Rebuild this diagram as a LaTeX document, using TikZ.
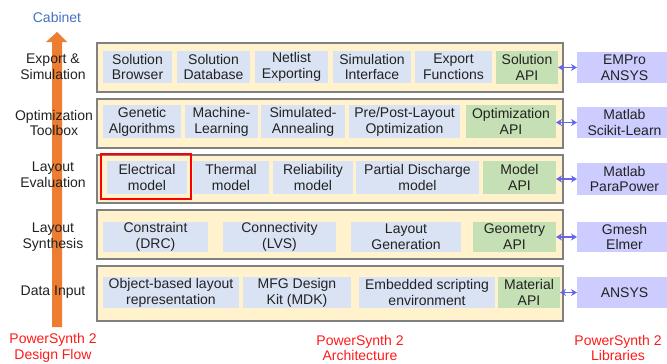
\documentclass[tikz,border=0pt]{standalone}
\usepackage{fontspec}
\setmainfont{Liberation Sans}
\usetikzlibrary{arrows.meta}
\definecolor{txt}{HTML}{222222}
\definecolor{outerfill}{HTML}{FFF2CC}
\definecolor{outerline}{HTML}{808080}
\definecolor{innerblue}{HTML}{DAE3F3}
\definecolor{innergreen}{HTML}{C5E0B4}
\definecolor{libfill}{HTML}{CCCCFF}
\definecolor{linkblue}{RGB}{100,100,240}
\definecolor{flow}{HTML}{ED7D31}
\definecolor{cab}{HTML}{4472C4}
\definecolor{redlab}{HTML}{FF1A1A}
\newcommand\myfs{\fontsize{14}{15.8}\selectfont}
\newcommand\ibox[7]{%
  \pgfmathsetmacro\bxcx{(#3+#4)/2}\pgfmathsetmacro\bxcy{(#5+#6)/2}%
  \pgfmathsetmacro\bxw{#4-#3}\pgfmathsetmacro\bxh{#6-#5}%
  \node[#2, minimum width=\bxw pt, minimum height=\bxh pt] (#1) at (\bxcx,\bxcy) {#7};}
\tikzset{
  base/.style={inner sep=0pt, outer sep=0pt, align=center, font=\myfs, text=txt},
  outerbox/.style={base, fill=outerfill, draw=outerline, line width=1.6pt},
  bluebox/.style={base, fill=innerblue},
  greenbox/.style={base, fill=innergreen},
  libbox/.style={base, fill=libfill},
  sidelab/.style={base},
  redtext/.style={base, text=redlab},
  link/.style={linkblue, line width=1.5pt, {Stealth[length=6pt,width=7pt]}-{Stealth[length=6pt,width=7pt]}},
  hilite/.style={draw=red, line width=2.6pt, inner sep=0pt, outer sep=0pt}
}
\begin{document}
\begin{tikzpicture}[x=1pt,y=-1pt]
\clip (0,0) rectangle (667,364);
% design flow arrow
\fill[flow] (52,327) -- (52,42) -- (46,42) -- (57,32) -- (67,42) -- (62,42) -- (62,327) -- cycle;
\node[base, text=cab] (cabinet) at (57,17) {Cabinet};
% left labels
\node[sidelab] (l1) at (53,67) {Export \&\\Simulation};
\node[sidelab] (l2) at (54,123) {Optimization\\Toolbox};
\node[sidelab] (l3) at (53,175) {Layout\\Evaluation};
\node[sidelab] (l4) at (53,237) {Layout\\Synthesis};
\node[sidelab] (l5) at (53,292) {Data Input};
% outer rows
\ibox{r1}{outerbox}{97}{563}{43}{92}{}
\ibox{r2}{outerbox}{97}{563}{99}{148}{}
\ibox{r3}{outerbox}{97}{563}{155}{203}{}
\ibox{r4}{outerbox}{97}{563}{210}{259}{}
\ibox{r5}{outerbox}{97}{563}{266}{321}{}
% row 1
\ibox{sb}{bluebox}{103}{172}{51}{83}{Solution\\Browser}
\ibox{sd}{bluebox}{177}{250}{51}{83}{Solution\\Database}
\ibox{ne}{bluebox}{255}{328}{51}{83}{Netlist\\Exporting}
\ibox{si}{bluebox}{333}{411}{51}{83}{Simulation\\Interface}
\ibox{ef}{bluebox}{415}{492}{51}{83}{Export\\Functions}
\ibox{sapi}{greenbox}{496}{558}{51}{84}{Solution\\API}
% row 2
\ibox{ga}{bluebox}{103}{181}{105}{138}{Genetic\\Algorithms}
\ibox{ml}{bluebox}{185}{258}{105}{138}{Machine-\\Learning}
\ibox{sa}{bluebox}{261}{345}{105}{138}{Simulated-\\Annealing}
\ibox{pp}{bluebox}{349}{460}{105}{138}{Pre/Post-Layout\\Optimization}
\ibox{oapi}{greenbox}{466}{556}{105}{138}{Optimization\\API}
% row 3
\ibox{em}{bluebox}{107}{187}{161}{194}{Electrical\\model}
\ibox{tm}{bluebox}{193}{269}{161}{194}{Thermal\\model}
\ibox{rm}{bluebox}{273}{353}{161}{194}{Reliability\\model}
\ibox{pd}{bluebox}{356}{479}{161}{194}{Partial Discharge\\model}
\ibox{mapi}{greenbox}{483}{556}{161}{194}{Model\\API}
\ibox{hl}{hilite}{101}{191}{154}{199}{}
% row 4
\ibox{cd}{bluebox}{103}{208}{222}{252}{Constraint\\(DRC)}
\ibox{cl}{bluebox}{223}{336}{222}{252}{Connectivity\\(LVS)}
\ibox{lg}{bluebox}{351}{461}{222}{252}{Layout\\Generation}
\ibox{gapi}{greenbox}{473}{556}{222}{252}{Geometry\\API}
% row 5
\ibox{ob}{bluebox}{103}{239}{277}{308}{Object-based layout\\representation}
\ibox{mfg}{bluebox}{243}{351}{277}{308}{MFG Design\\Kit (MDK)}
\ibox{es}{bluebox}{359}{495}{277}{308}{Embedded scripting\\environment}
\ibox{matapi}{greenbox}{498}{560}{277}{308}{Material\\API}
% libraries
\ibox{lib1}{libbox}{577}{672}{52}{83}{EMPro\\ANSYS}
\ibox{lib2}{libbox}{577}{672}{107}{138}{Matlab\\Scikit-Learn}
\ibox{lib3}{libbox}{577}{672}{163}{195}{Matlab\\ParaPower}
\ibox{lib4}{libbox}{577}{672}{222}{252}{Gmesh\\Elmer}
\ibox{lib5}{libbox}{577}{672}{277}{308}{ANSYS}
% links
\draw[link] (sapi.east |- lib1.west) -- (lib1.west);
\draw[link] (oapi.east |- lib2.west) -- (lib2.west);
\draw[link] (mapi.east |- lib3.west) -- (lib3.west);
\draw[link] (gapi.east |- lib4.west) -- (lib4.west);
\draw[link] (matapi.east |- lib5.west) -- (lib5.west);
% bottom captions
\node[redtext] (c1) at (53,348) {PowerSynth 2\\Design Flow};
\node[redtext] (c2) at (360,348) {PowerSynth 2\\Architecture};
\node[redtext] (c3) at (618,348) {PowerSynth 2\\Libraries};
\end{tikzpicture}
\end{document}
